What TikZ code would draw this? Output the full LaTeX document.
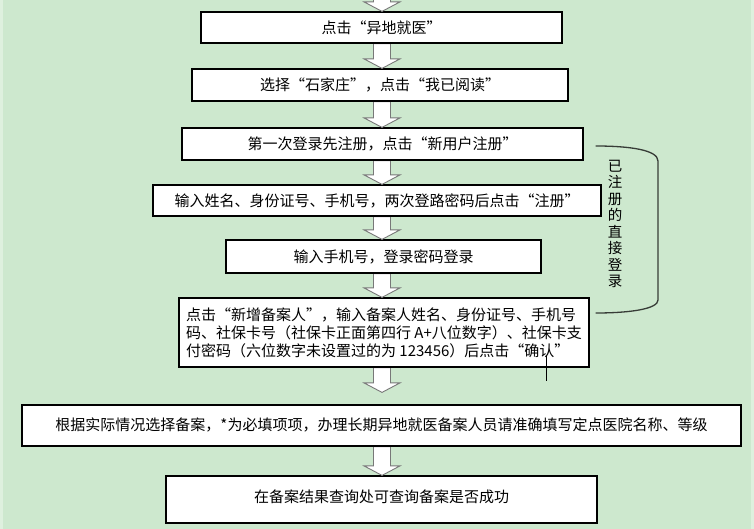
\documentclass[tikz,border=0pt]{standalone}
\usepackage{fontspec}
\setmainfont{Noto Sans CJK SC}
\usetikzlibrary{calc}
\definecolor{bggreen}{RGB}{205,232,206}
\definecolor{bgedge}{RGB}{222,240,222}
\definecolor{arrgray}{RGB}{120,120,120}
\definecolor{brackc}{RGB}{55,60,55}
\newcommand{\blockarr}[3]{% from, to, gap above tip
  \path let \p1=(#1), \p2=(#2) in
    [draw=arrgray, fill=white, line width=0.9pt, line join=miter]
    (382pt-8.5pt,\y1) -- (382pt+8.5pt,\y1) -- (382pt+8.5pt,\y2+#3+9.5pt)
    -- (382pt+18pt,\y2+#3+9.5pt) -- (382pt,\y2+#3) -- (382pt-18pt,\y2+#3+9.5pt)
    -- (382pt-8.5pt,\y2+#3+9.5pt) -- cycle;}
\begin{document}
\begin{tikzpicture}[x=1pt,y=-1pt,
  box/.style={draw=black, line width=1.2pt, fill=white, inner sep=0pt,
    font=\fontsize{15}{18}\selectfont, text=black},
  every node/.style={anchor=center}]
\useasboundingbox (0,0) rectangle (754,529);
\fill[bggreen] (0,0) rectangle (754,529);
\fill[bgedge] (0,0) rectangle (3,529);
\fill[bgedge] (751,0) rectangle (754,529);

\node[box, minimum width=361pt, minimum height=31pt] (b1) at (381.5,27.5) {点击“异地就医”};
\node[box, minimum width=376pt, minimum height=32pt] (b2) at (380,85) {选择“石家庄”，点击“我已阅读”};
\node[box, minimum width=401pt, minimum height=32pt] (b3) at (382.5,144) {第一次登录先注册，点击“新用户注册”};
\node[box, minimum width=448pt, minimum height=31pt] (b4) at (377,200.5) {输入姓名、身份证号、手机号，两次登路密码后点击“注册”};
\node[box, minimum width=315pt, minimum height=33pt] (b5) at (383.5,256.5) {输入手机号，登录密码登录};
\node[box, minimum width=410pt, minimum height=69pt, align=left] (b6) at (384,332.5)
  {点击“新增备案人”，输入备案人姓名、身份证号、手机号\\码、社保卡号（社保卡正面第四行 A+八位数字）、社保卡支\\付密码（六位数字未设置过的为 123456）后点击“确认”};
\node[box, minimum width=719pt, minimum height=41pt] (b7) at (381.5,425.5)
  {\raisebox{3pt}{根据实际情况选择备案，*为必填项项，办理长期异地就医备案人员请准确填写定点医院名称、等级}};
\node[box, minimum width=431pt, minimum height=47pt] (b8) at (381.5,499.5)
  {\raisebox{7pt}{在备案结果查询处可查询备案是否成功}};

\coordinate (top) at (382,-12);
\blockarr{top}{b1.north}{0pt}
\blockarr{b1.south}{b2.north}{0pt}
\blockarr{b2.south}{b3.north}{0pt}
\blockarr{b3.south}{b4.north}{0pt}
\blockarr{b4.south}{b5.north}{0pt}
\blockarr{b5.south}{b6.north}{0pt}
\blockarr{b6.south}{b7.north}{12pt}
\blockarr{b7.south}{b8.north}{0pt}

% redraw box borders over arrow shafts
\foreach \b in {b1,b2,b3,b4,b5,b6,b7}
  \draw[line width=1.2pt] (\b.south west) -- (\b.south east);

% bracket for already-registered users
\coordinate (brA) at ($(b3.east)+(12,2)$);
\coordinate (brB) at ($(b6.east)+(6,-19.5)$);
\draw[brackc, line width=1.3pt]
  (brA) .. controls (630,146) and (658,150) .. (658,161)
  -- (658,300) .. controls (658,309) and (630,313) .. (brB);
\node[font=\fontsize{14.5}{16.5}\selectfont, align=center, inner sep=0pt] (reg) at (615,224)
  {已\\注\\册\\的\\直\\接\\登\\录};

% small tick crossing the bottom of the last form box
\coordinate (tk) at ($(b6.south west)+(368,0)$);
\draw[line width=1.2pt] ($(tk)+(0,-12)$) -- ($(tk)+(0,13)$);
\end{tikzpicture}
\end{document}
